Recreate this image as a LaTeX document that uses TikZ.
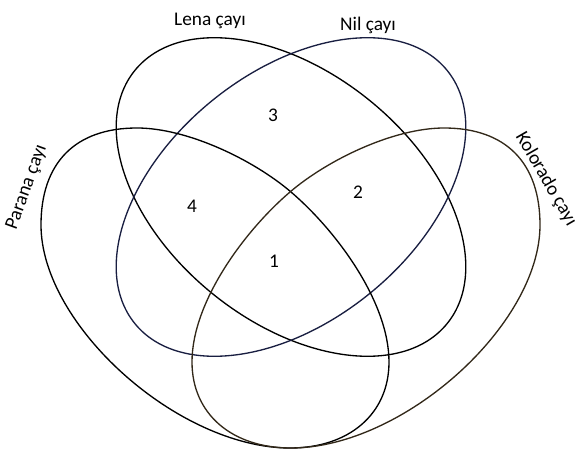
\documentclass[tikz,border=0pt]{standalone}
\usepackage{fontspec}
\setmainfont{Carlito}
\begin{document}
\begin{tikzpicture}[x=0.75pt, y=0.75pt,
    river/.style={line width=1pt},
    setname/.style={font=\fontsize{14.5}{17}\selectfont, inner sep=0pt},
    regnum/.style={font=\fontsize{14.5}{17}\selectfont, inner sep=0pt}]
  \useasboundingbox (0,0) rectangle (579,450);
  % Lena and Nil: two tilted ellipses, same centre
  \draw[river, rotate around={-39:(291,253)}] (291,253) ellipse [x radius=150.75pt, y radius=93.4pt];
  \draw[river, draw={rgb,255:red,25;green,30;blue,65}, rotate around={39:(291,253)}] (291,253) ellipse [x radius=150.75pt, y radius=93.4pt];
  % Parana: egg to the left
  \draw[river] (137,322) .. controls (75,322) and (41,287) .. (41,225)
    .. controls (41,125) and (178,2) .. (290,2)
    .. controls (349,2) and (389,36) .. (389,88)
    .. controls (389,148) and (336.6,219) .. (291,258)
    .. controls (253,290.5) and (187,322) .. (137,322) -- cycle;
  % Kolorado: mirror image of Parana
  \draw[river, draw={rgb,255:red,50;green,40;blue,25}, shift={(581,0)}, xscale=-1]
    (137,322) .. controls (75,322) and (41,287) .. (41,225)
    .. controls (41,125) and (178,2) .. (290,2)
    .. controls (349,2) and (389,36) .. (389,88)
    .. controls (389,148) and (336.6,219) .. (291,258)
    .. controls (253,290.5) and (187,322) .. (137,322) -- cycle;
  % names of the sets
  \node[setname] (lena) at (210,429.5) {Lena çayı};
  \node[setname] (nil) at (368,425) {Nil çayı};
  \node[setname, rotate=70] (parana) at (27,263) {Parana çayı};
  \node[setname, rotate=-60] (kolorado) at (546,271) {Kolorado çayı};
  % region numbers
  \node[regnum] (r1) at (274,189) {1};
  \node[regnum] (r2) at (358,258) {2};
  \node[regnum] (r3) at (273,335) {3};
  \node[regnum] (r4) at (192,244) {4};
\end{tikzpicture}
\end{document}
